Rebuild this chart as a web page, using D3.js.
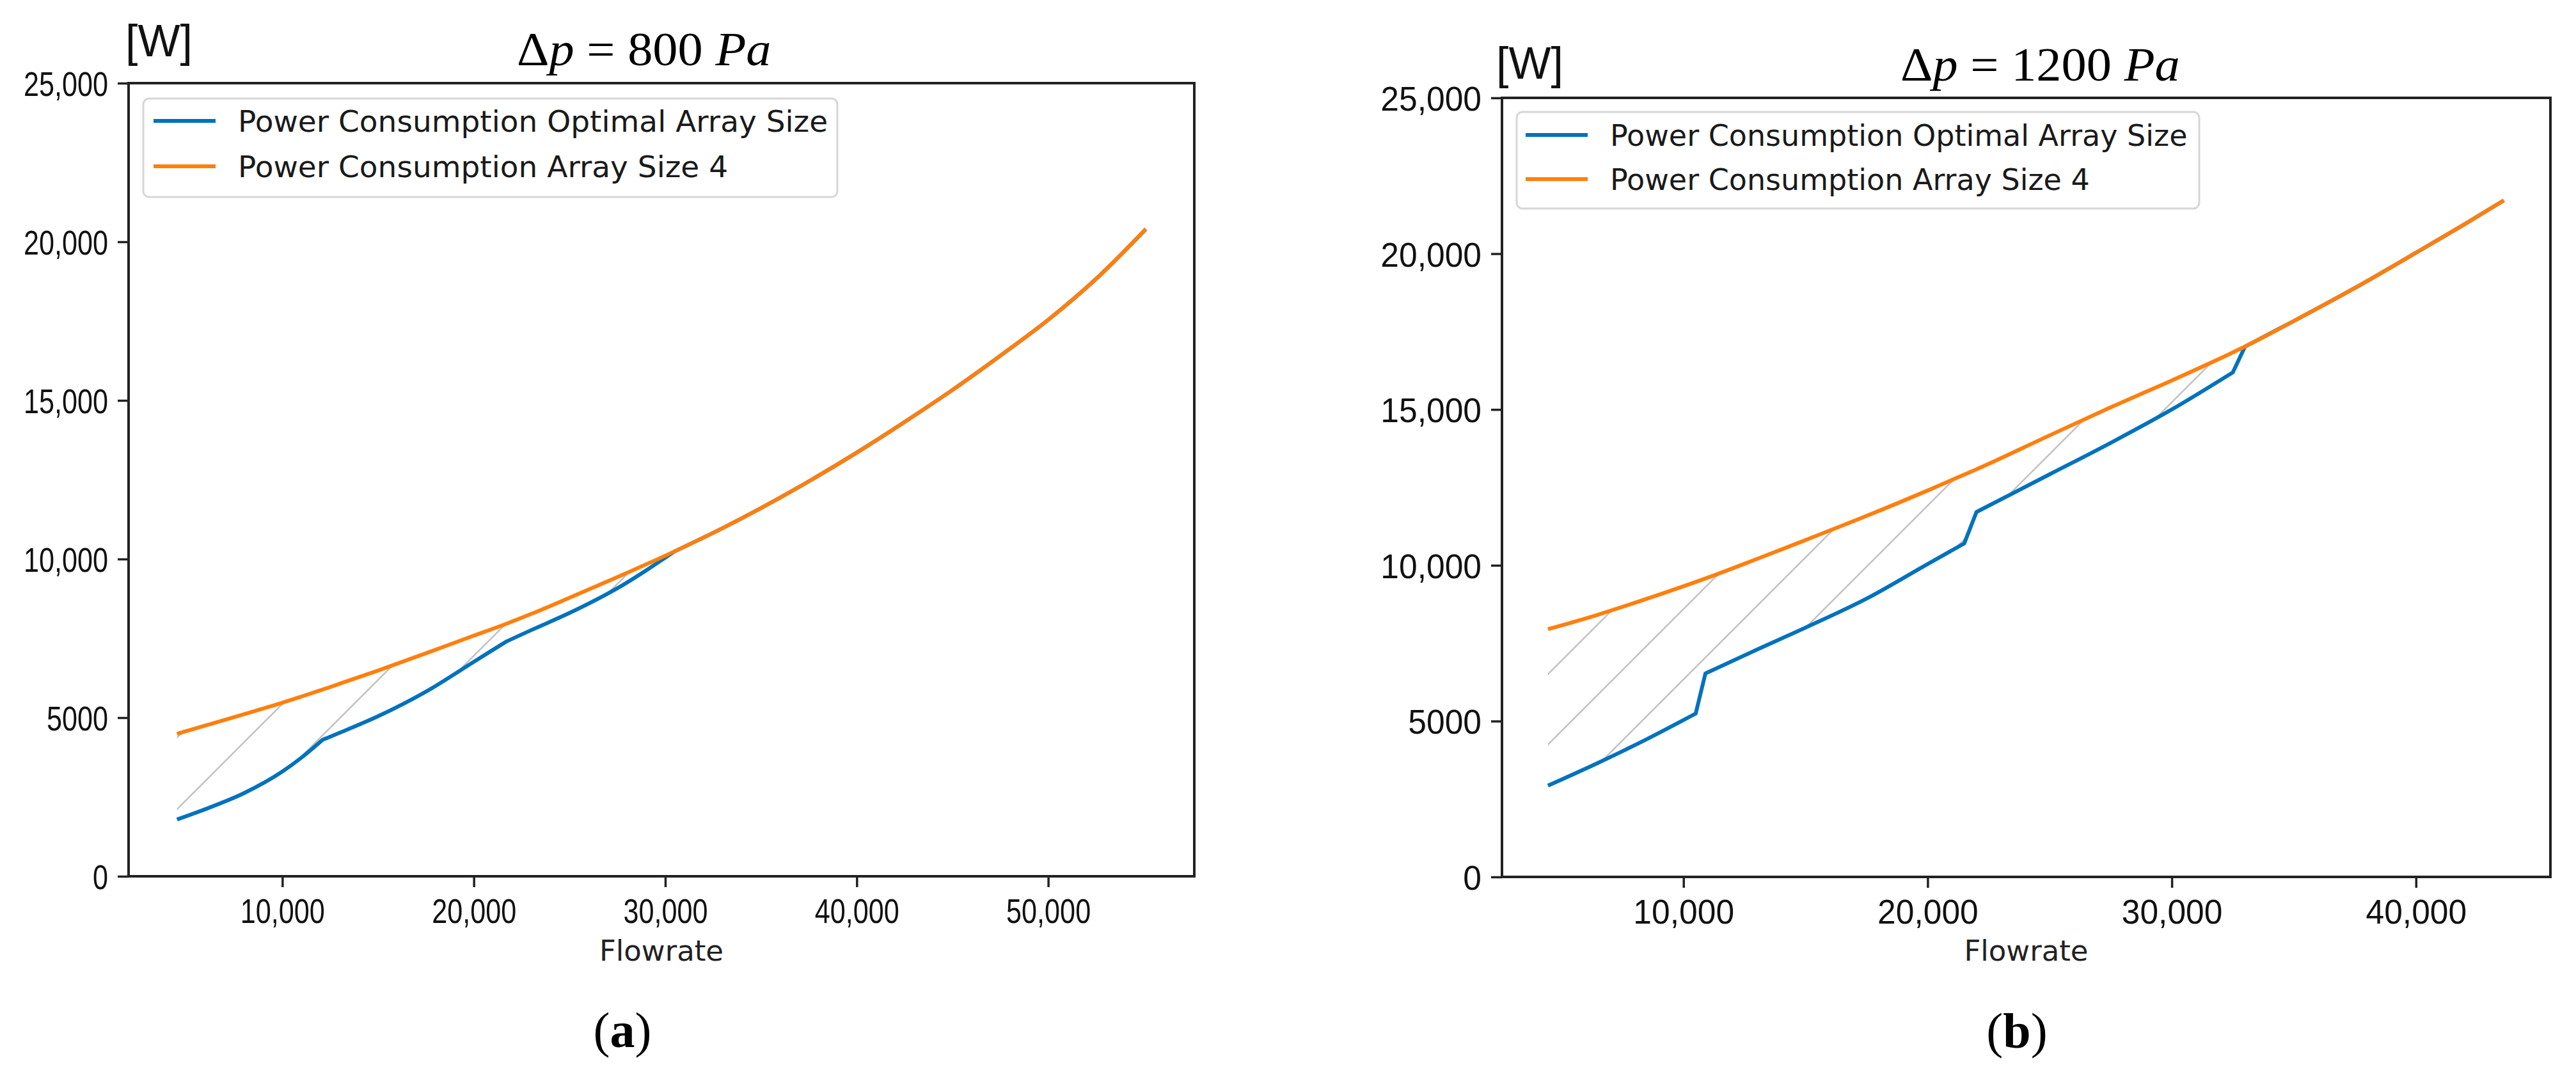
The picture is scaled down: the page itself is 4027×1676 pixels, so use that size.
<!DOCTYPE html>
<html>
<head>
<meta charset="utf-8">
<script src="https://cdn.jsdelivr.net/npm/d3@7"></script>
<style>
  html, body { margin: 0; padding: 0; background: #fff; }
  svg { display: block; }
  text { white-space: pre; }
</style>
</head>
<body>
<svg id="chart"></svg>
<script>
// ---------------- DATA ----------------
// Panel (a): Δp = 800 Pa
const flowA     = [4500, 6000, 8000, 10000, 11000, 12100, 13000, 15000, 17500, 20000, 21700, 23000, 25000, 27500, 30500, 33000, 35000, 37500, 40000, 42500, 45000, 47500, 50000, 52500, 55100];
const optimalA  = [1790, 2120, 2620, 3300, 3740, 4300, 4525, 5045, 5820, 6760, 7400, 7760, 8300, 9080, 10245, 10975, 11605, 12450, 13355, 14320, 15330, 16410, 17540, 18830, 20400];
const size4A    = [4490, 4755, 5110, 5470, 5665, 5885, 6070, 6485, 7030, 7585, 7960, 8270, 8780, 9430, 10245, 10975, 11605, 12450, 13355, 14320, 15330, 16410, 17540, 18830, 20400];
const cornersA  = [12100, 21700, 30500];   // flow values where the optimal curve changes array size

// Panel (b): Δp = 1200 Pa
const flowB     = [4450, 6500, 8500, 10500, 10900, 13000, 15000, 17500, 20000, 21500, 22000, 25000, 27500, 30000, 32500, 33000, 35000, 37500, 40000, 42000, 43600];
const optimalB  = [2930, 3660, 4420, 5240, 6530, 7290, 8000, 8930, 10040, 10700, 11710, 12920, 13930, 15000, 16190, 17020, 17840, 18900, 20030, 20950, 21710];
const size4B    = [7950, 8415, 8925, 9465, 9577, 10200, 10810, 11585, 12400, 12910, 13080, 14170, 15070, 15930, 16830, 17020, 17840, 18900, 20030, 20950, 21710];
const cornersB  = [10500, 10900, 21500, 22000, 32500, 33000];

// Axis ticks
const yTickValues  = [0, 5000, 10000, 15000, 20000, 25000];
const yTickLabels  = ["0", "5000", "10,000", "15,000", "20,000", "25,000"];
const xTickValuesA = [10000, 20000, 30000, 40000, 50000];
const xTickLabelsA = ["10,000", "20,000", "30,000", "40,000", "50,000"];
const xTickValuesB = [10000, 20000, 30000, 40000];
const xTickLabelsB = ["10,000", "20,000", "30,000", "40,000"];

// Texts
const seriesNames   = ["Power Consumption Optimal Array Size", "Power Consumption Array Size 4"];
const pressures     = ["800", "1200"];
const panelLetters  = ["a", "b"];
const xAxisTitle    = "Flowrate";
const yUnit         = "[W]";

// ---------------- LAYOUT / STYLE ----------------
const W = 4027, H = 1676;
const COLORS = { optimal: "#0072bd", size4: "#ff7f0e", hatch: "#c2c2c2", axis: "#222222", text: "#111111" };
const SANS = "'Liberation Sans', Arial, Helvetica, sans-serif";
const DEJAVU = "'DejaVu Sans', Verdana, sans-serif";
const SERIF = "'Liberation Serif', 'Times New Roman', serif";

const panels = [
  {
    id: "A", flow: flowA, optimal: optimalA, size4: size4A, corners: cornersA,
    xTicks: xTickValuesA, xLabels: xTickLabelsA, pressure: pressures[0], letter: panelLetters[0],
    box: { l: 201, r: 1867, t: 130, b: 1370 }, xDomain: [1970, 57630],
    tickFont: 54, tickSx: 0.8,
    hatch: { s: 112, c: 86 },
    title: { x: 808, y: 102 }, unit: { x: 196, y: 88 },
    legend: { x: 224, y: 154, w: 1085, h: 154, font: 47, row: 71, first: 35, lx: 16, len: 97, tx: 148 },
    xlab: { y: 1502 }, plab: { x: 973, y: 1637 }
  },
  {
    id: "B", flow: flowB, optimal: optimalB, size4: size4B, corners: cornersB,
    xTicks: xTickValuesB, xLabels: xTickLabelsB, pressure: pressures[1], letter: panelLetters[1],
    box: { l: 2348, r: 3987, t: 153, b: 1371 }, xDomain: [2567, 45507],
    tickFont: 54, tickSx: 0.955,
    hatch: { s: 110, c: 64 },
    title: { x: 2971, y: 126 }, unit: { x: 2339, y: 123 },
    legend: { x: 2371, y: 175, w: 1067, h: 151, font: 46, row: 69, first: 36, lx: 14, len: 97, tx: 146 },
    xlab: { y: 1502 }, plab: { x: 3153, y: 1638 }
  }
];

const svg = d3.select("#chart").attr("width", W).attr("height", H).attr("viewBox", `0 0 ${W} ${H}`);
svg.append("rect").attr("width", W).attr("height", H).attr("fill", "#fff");
const defs = svg.append("defs");

function splitAt(points, corners) {
  const pieces = []; let cur = [];
  points.forEach(p => {
    cur.push(p);
    if (corners.includes(p[0]) && cur.length > 1) { pieces.push(cur); cur = [p]; }
  });
  if (cur.length > 1) pieces.push(cur);
  return pieces;
}

panels.forEach(P => {
  const { l, r, t, b } = P.box;
  const x = d3.scaleLinear().domain(P.xDomain).range([l, r]);
  const y = d3.scaleLinear().domain([0, 25000]).range([b, t]);

  const optPts = P.flow.map((f, i) => [f, P.optimal[i]]);
  const s4Pts  = P.flow.map((f, i) => [f, P.size4[i]]);

  const line = d3.line().x(d => x(d[0])).y(d => y(d[1])).curve(d3.curveMonotoneX);
  const linLine = d3.line().x(d => x(d[0])).y(d => y(d[1]));

  // optimal curve: smooth pieces joined at sharp corners into one path
  const pieces = splitAt(optPts, P.corners);
  const optPath = pieces.map((pc, i) => {
    const d = pc.length > 2 ? line(pc) : linLine(pc);
    return i === 0 ? d : "L" + d.slice(1);
  }).join("");
  const s4Path = line(s4Pts);

  const x0 = x(P.flow[0]), x1 = x(P.flow[P.flow.length - 1]), yb = y(0);

  // hatch pattern ("/" lines at 45°)
  const s = P.hatch.s;
  const pat = defs.append("pattern").attr("id", "hatch" + P.id)
    .attr("patternUnits", "userSpaceOnUse").attr("width", s).attr("height", s)
    .attr("patternTransform", `translate(${P.hatch.c},0)`);
  pat.append("path")
    .attr("d", `M0,${s}L${s},0M-5,5L5,-5M${s - 5},${s + 5}L${s + 5},${s - 5}`)
    .attr("stroke", COLORS.hatch).attr("stroke-width", 2.6).attr("fill", "none");

  // mask = region under Array-Size-4 curve minus region under optimal curve
  const mask = defs.append("mask").attr("id", "mask" + P.id)
    .attr("maskUnits", "userSpaceOnUse").attr("x", 0).attr("y", 0).attr("width", W).attr("height", H);
  mask.append("path").attr("d", s4Path + `L${x1},${yb}L${x0},${yb}Z`).attr("fill", "#fff");
  mask.append("path").attr("d", optPath + `L${x1},${yb}L${x0},${yb}Z`)
    .attr("fill", "#000").attr("stroke", "#000").attr("stroke-width", 1);

  svg.append("rect").attr("x", l).attr("y", t).attr("width", r - l).attr("height", b - t)
    .attr("fill", `url(#hatch${P.id})`).attr("mask", `url(#mask${P.id})`);

  // data lines
  svg.append("path").attr("d", optPath).attr("fill", "none").attr("stroke", COLORS.optimal)
    .attr("stroke-width", 6).attr("stroke-linejoin", "round").attr("stroke-linecap", "butt");
  svg.append("path").attr("d", s4Path).attr("fill", "none").attr("stroke", COLORS.size4)
    .attr("stroke-width", 6).attr("stroke-linejoin", "round").attr("stroke-linecap", "butt");

  // axes
  const tickLen = 17, sx = P.tickSx;
  const gy = svg.append("g").attr("transform", `translate(${l},0)`)
    .call(d3.axisLeft(y).tickValues(yTickValues).tickFormat((d, i) => yTickLabels[i])
      .tickSize(tickLen).tickPadding(15));
  const gx = svg.append("g").attr("transform", `translate(0,${b})`)
    .call(d3.axisBottom(x).tickValues(P.xTicks).tickFormat((d, i) => P.xLabels[i])
      .tickSize(tickLen).tickPadding(18));
  [gy, gx].forEach(g => {
    g.attr("font-family", SANS).attr("font-size", P.tickFont);
    g.select(".domain").remove();
    g.selectAll(".tick line").attr("stroke", COLORS.axis).attr("stroke-width", 3.5);
    g.selectAll(".tick text").attr("fill", COLORS.text);
  });
  gy.selectAll(".tick text").attr("x", -(tickLen + 15) / sx).attr("dy", "0.36em")
    .attr("transform", `scale(${sx},1)`);
  gx.selectAll(".tick text").attr("transform", `scale(${sx},1)`);

  // frame (spines)
  svg.append("rect").attr("x", l).attr("y", t).attr("width", r - l).attr("height", b - t)
    .attr("fill", "none").attr("stroke", COLORS.axis).attr("stroke-width", 4);

  // unit label
  svg.append("text").attr("x", P.unit.x).attr("y", P.unit.y).attr("font-family", SANS)
    .attr("font-size", 70).attr("fill", COLORS.text).text(yUnit);

  // title Δp = ... Pa
  const tt = svg.append("text").attr("transform", `translate(${P.title.x},${P.title.y}) scale(1.06,1)`)
    .attr("font-family", SERIF).attr("font-size", 74).attr("fill", "#000");
  tt.append("tspan").text("Δ");
  tt.append("tspan").attr("font-style", "italic").text("p");
  tt.append("tspan").text(" = " + P.pressure + " ");
  tt.append("tspan").attr("font-style", "italic").text("Pa");

  // x-axis title
  svg.append("text").attr("x", (l + r) / 2).attr("y", P.xlab.y).attr("text-anchor", "middle")
    .attr("font-family", DEJAVU).attr("font-size", 45).attr("fill", "#222").text(xAxisTitle);

  // panel label (a)/(b)
  const pl = svg.append("text").attr("x", P.plab.x).attr("y", P.plab.y).attr("text-anchor", "middle")
    .attr("font-family", SERIF).attr("font-size", 78).attr("fill", "#000");
  pl.append("tspan").text("(");
  pl.append("tspan").attr("font-weight", "bold").text(P.letter);
  pl.append("tspan").text(")");

  // legend
  const L = P.legend;
  const lg = svg.append("g");
  lg.append("rect").attr("x", L.x).attr("y", L.y).attr("width", L.w).attr("height", L.h)
    .attr("rx", 9).attr("fill", "#fff").attr("fill-opacity", 0.85)
    .attr("stroke", "#d6d6d6").attr("stroke-width", 3);
  [COLORS.optimal, COLORS.size4].forEach((c, i) => {
    const cy = L.y + L.first + i * L.row;
    lg.append("line").attr("x1", L.x + L.lx).attr("x2", L.x + L.lx + L.len)
      .attr("y1", cy).attr("y2", cy).attr("stroke", c).attr("stroke-width", 6);
    lg.append("text").attr("x", L.x + L.tx).attr("y", cy + 0.365 * L.font)
      .attr("font-family", DEJAVU).attr("font-size", L.font).attr("fill", "#1a1a1a")
      .text(seriesNames[i]);
  });
});
</script>
</body>
</html>
